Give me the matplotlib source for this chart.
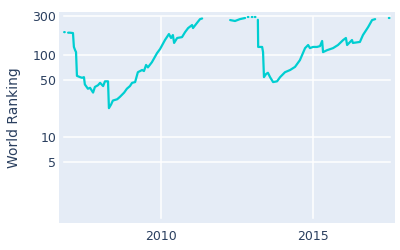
import numpy as np
import matplotlib
matplotlib.use("Agg")
import matplotlib.pyplot as plt

# Decimal years and world ranking (NaN = gap in the line: unranked / off scale)
years = [2006.82, 2006.84, np.nan,
         2006.95, 2007.01, 2007.11, 2007.14, 2007.18, 2007.21, 2007.24, 2007.34, 2007.41,
         2007.47, 2007.50, 2007.60, 2007.67, 2007.77, 2007.83, 2007.93, 2008.00,
         2008.10, 2008.16, 2008.26, 2008.29, 2008.36, 2008.42, 2008.56, 2008.65,
         2008.79, 2008.88, 2008.98, 2009.05, 2009.15, 2009.24, 2009.38, 2009.44,
         2009.51, 2009.57, 2009.70, 2009.87, 2009.97, 2010.13, 2010.26, 2010.33,
         2010.39, 2010.43, 2010.53, 2010.69, 2010.79, 2010.89, 2011.02, 2011.05,
         2011.18, 2011.28, 2011.35, np.nan,
         2012.27, 2012.43, 2012.59, 2012.76, np.nan,
         2012.85, 2012.87, np.nan, 2012.98, 2013.00, np.nan, 2013.08, 2013.10, np.nan,
         2013.18, 2013.19, 2013.32, 2013.35, 2013.38, 2013.45, 2013.51,
         2013.58, 2013.68, 2013.81, 2013.91, 2014.07, 2014.24, 2014.40, 2014.56,
         2014.73, 2014.83, 2014.89, 2014.99, 2015.12, 2015.22, 2015.29, 2015.32,
         2015.45, 2015.65, 2015.81, 2015.98, 2016.07, 2016.11, 2016.27, 2016.30,
         2016.53, 2016.63, 2016.80, 2016.93, 2017.03, np.nan, 2017.48, 2017.50]
ranking = [191, 191, np.nan,
           188, 188, 186, 126, 115, 109, 56, 54, 53,
           54, 44, 39, 40, 35, 41, 43, 46,
           42, 48, 48, 22.6, 25, 28, 29, 31,
           35, 39, 42, 46, 47, 62, 66, 64,
           76, 71, 82, 106, 119, 153, 181, 162,
           176, 141, 162, 166, 191, 214, 233, 214,
           247, 275, 280, np.nan,
           268, 261, 275, 284, np.nan,
           292, 292, np.nan, 292, 292, np.nan, 292, 292, np.nan,
           270, 126, 126, 109, 54, 59, 61,
           54, 47, 48, 54, 62, 66, 72, 87,
           122, 133, 122, 126, 126, 129, 149, 109,
           115, 122, 133, 153, 162, 133, 153, 141,
           145, 176, 220, 268, 275, np.nan, 284, 284]

ytick_vals = [5, 10, 50, 100, 300]
xtick_vals = [2010, 2015]

bg = "#E5ECF6"
txt = "#2a3f5f"

fig = plt.figure(figsize=(4, 2.5), dpi=100)
ax = fig.add_axes([59/400, 1 - 223/250, (395-59)/400, (223-12)/250])
ax.set_facecolor(bg)
for s in ax.spines.values():
    s.set_visible(False)

ax.set_yscale("log")
ax.set_ylim(0.9, 336)
ax.set_xlim(2006.651, 2017.682)

for v in ytick_vals:
    ax.axhline(v, xmin=0.015, xmax=0.985, color="white", lw=1.1, zorder=1)
for v in xtick_vals:
    ax.axvline(v, ymin=0.024, ymax=0.976, color="white", lw=1.1, zorder=1)

ax.plot(years, ranking, color="#00CED1", lw=1.6, zorder=3, solid_capstyle="round")

ax.set_yticks(ytick_vals)
ax.set_yticklabels([str(v) for v in ytick_vals])
ax.yaxis.set_minor_locator(matplotlib.ticker.NullLocator())
ax.set_xticks(xtick_vals)
ax.set_xticklabels([str(v) for v in xtick_vals])
ax.tick_params(axis="both", length=0, labelsize=9, colors=txt)
ax.tick_params(axis="y", pad=2)
ax.tick_params(axis="x", pad=5)
ax.set_ylabel("World Ranking", fontsize=10, color=txt, labelpad=8)

fig.savefig("out.png", dpi=100)
